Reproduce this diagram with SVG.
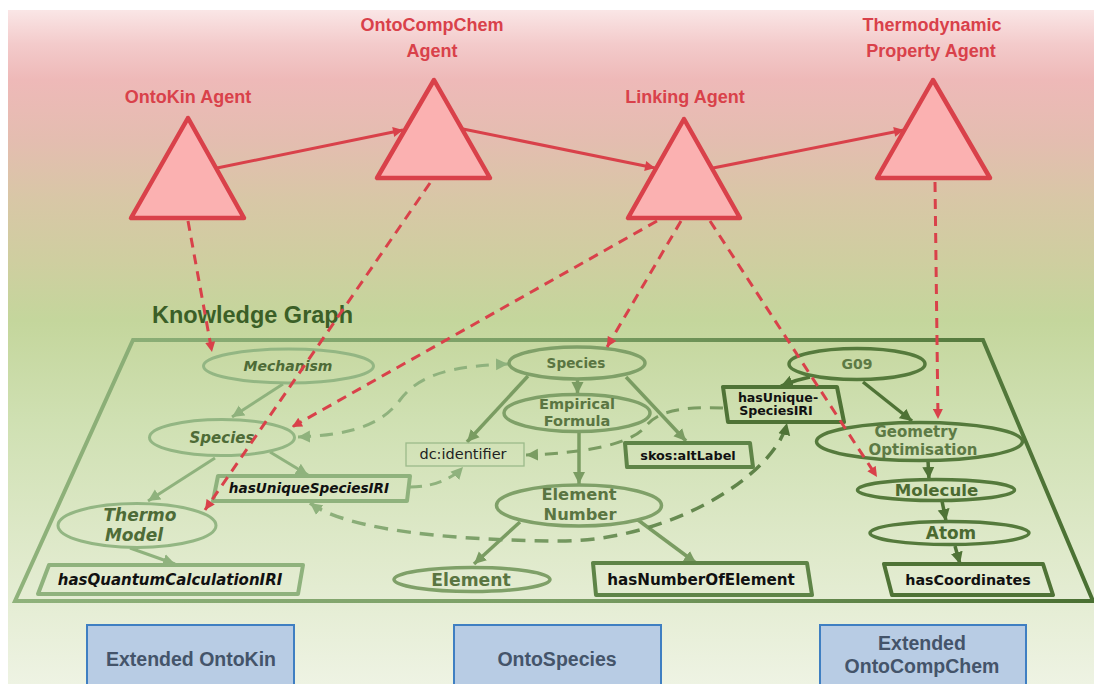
<svg xmlns="http://www.w3.org/2000/svg" width="1094" height="684" viewBox="0 0 1094 684">
  <defs>
    <linearGradient id="bg" gradientUnits="userSpaceOnUse" x1="0" y1="10" x2="0" y2="684">
      <stop offset="0" stop-color="#fae6e6"/>
      <stop offset="0.052" stop-color="#f3caca"/>
      <stop offset="0.104" stop-color="#eeb9b8"/>
      <stop offset="0.193" stop-color="#e4bdb0"/>
      <stop offset="0.282" stop-color="#d8c7a6"/>
      <stop offset="0.371" stop-color="#cfcea0"/>
      <stop offset="0.46" stop-color="#c4d69c"/>
      <stop offset="0.608" stop-color="#cfe0b2"/>
      <stop offset="0.816" stop-color="#e0eacc"/>
      <stop offset="1" stop-color="#eef3e3"/>
    </linearGradient>
    <linearGradient id="kgEdge" gradientUnits="userSpaceOnUse" x1="15" y1="0" x2="1093" y2="0">
      <stop offset="0" stop-color="#8fb27b"/>
      <stop offset="0.5" stop-color="#7a9e64"/>
      <stop offset="1" stop-color="#4a7032"/>
    </linearGradient>
    <linearGradient id="loopEdge" gradientUnits="userSpaceOnUse" x1="310" y1="0" x2="790" y2="0">
      <stop offset="0" stop-color="#8fb27d"/>
      <stop offset="1" stop-color="#5b7f44"/>
    </linearGradient>
    <marker id="redHead" viewBox="0 0 10 10" refX="10" refY="5" markerUnits="userSpaceOnUse" markerWidth="11" markerHeight="10" orient="auto">
      <path d="M0,0 L10,5 L0,10 z" fill="#d9414a"/>
    </marker>
    <marker id="lightHead" viewBox="0 0 10 10" refX="10" refY="5" markerUnits="userSpaceOnUse" markerWidth="12" markerHeight="13" orient="auto-start-reverse">
      <path d="M0,0 L10,5 L0,10 z" fill="#8fb27d"/>
    </marker>
    <marker id="midHead" viewBox="0 0 10 10" refX="10" refY="5" markerUnits="userSpaceOnUse" markerWidth="12" markerHeight="13" orient="auto-start-reverse">
      <path d="M0,0 L10,5 L0,10 z" fill="#7a9c62"/>
    </marker>
    <marker id="darkHead" viewBox="0 0 10 10" refX="10" refY="5" markerUnits="userSpaceOnUse" markerWidth="12" markerHeight="13" orient="auto-start-reverse">
      <path d="M0,0 L10,5 L0,10 z" fill="#4f7336"/>
    </marker>
    <style>
      .agent { fill: #fbb1b1; stroke: #d9414a; stroke-width: 4.5; stroke-linejoin: round; }
      .agentText { font-family: "Liberation Sans", Arial, sans-serif; font-weight: bold; font-size: 18px; fill: #d9414a; text-anchor: middle; }
      .redLine { stroke: #d9414a; stroke-width: 3; fill: none; marker-end: url(#redHead); }
      .redDash { stroke: #d9414a; stroke-width: 3; fill: none; stroke-dasharray: 10 7; marker-end: url(#redHead); }
      .g { font-family: "DejaVu Sans", Verdana, sans-serif; font-weight: bold; text-anchor: middle; }
      .it { font-style: italic; }
      .lightEl { fill: none; stroke: #93b683; stroke-width: 3; }
      .midEl { fill: none; stroke: #7fa068; stroke-width: 3.5; }
      .darkEl { fill: none; stroke: #557a3c; stroke-width: 3.5; }
      .lightTx { fill: #4e6b37; }
      .midTx { fill: #5a7542; }
      .darkTx { fill: #4b6a31; }
      .boxTx { fill: #111; }
      .lightBox { fill: none; stroke: #8fb27d; stroke-width: 4; stroke-linejoin: round; }
      .midBox { fill: none; stroke: #5e8447; stroke-width: 4; stroke-linejoin: round; }
      .darkBox { fill: none; stroke: #4f7336; stroke-width: 4; stroke-linejoin: round; }
      .lightArrow { stroke: #8fb27d; stroke-width: 3; fill: none; marker-end: url(#lightHead); }
      .midArrow { stroke: #7a9c62; stroke-width: 3.5; fill: none; marker-end: url(#midHead); }
      .darkArrow { stroke: #4f7336; stroke-width: 3.5; fill: none; marker-end: url(#darkHead); }
      .onto { fill: #b8cce4; stroke: #3f7fc2; stroke-width: 2; }
      .ontoText { font-family: "Liberation Sans", Arial, sans-serif; font-weight: bold; font-size: 19.5px; fill: #44546a; text-anchor: middle; }
    </style>
  </defs>

  <!-- backdrop -->
  <rect x="0" y="0" width="1094" height="684" fill="#ffffff"/>
  <rect x="8" y="10" width="1086" height="674" fill="url(#bg)"/>

  <!-- knowledge graph frame -->
  <g id="knowledge-graph">
    <polygon points="133,340 983,340 1093,601 15,601" fill="none" stroke="url(#kgEdge)" stroke-width="4" stroke-linejoin="miter"/>
    <text x="152" y="323" font-family="Liberation Sans, Arial, sans-serif" font-weight="bold" font-size="23.5" fill="#3b5f27">Knowledge Graph</text>
  </g>

  <!-- graph edges inside the knowledge graph -->
  <g id="connectors">
    <!-- extended OntoKin -->
    <line class="lightArrow" x1="283" y1="384" x2="232" y2="417"/>
    <line class="lightArrow" x1="270" y1="452" x2="308" y2="475"/>
    <line class="lightArrow" x1="215" y1="458" x2="148" y2="501"/>
    <line class="lightArrow" x1="130" y1="548" x2="175" y2="564"/>
    <!-- OntoSpecies -->
    <line class="midArrow" x1="577.5" y1="380" x2="577.5" y2="394"/>
    <line class="midArrow" x1="528" y1="376" x2="467" y2="442"/>
    <line class="midArrow" x1="626" y1="377" x2="686" y2="441"/>
    <line class="midArrow" x1="579" y1="433" x2="579" y2="484"/>
    <line class="midArrow" x1="520" y1="522" x2="474" y2="564"/>
    <line class="midArrow" x1="638" y1="520" x2="696" y2="563"/>
    <!-- extended OntoCompChem -->
    <path class="darkArrow" d="M810,377 Q795,380 781,386"/>
    <line class="darkArrow" x1="863" y1="382" x2="912" y2="421"/>
    <line class="darkArrow" x1="928" y1="461" x2="929" y2="479"/>
    <line class="darkArrow" x1="942" y1="501" x2="946" y2="521"/>
    <line class="darkArrow" x1="955" y1="546" x2="960" y2="564"/>
    <!-- cross-ontology links (dashed) -->
    <path d="M298,437 C360,435 385,420 400,400 C415,380 440,366 508,364" fill="none" stroke="#8fb27d" stroke-width="3" stroke-dasharray="13 9" marker-start="url(#lightHead)" marker-end="url(#lightHead)"/>
    <path d="M410,487 C430,487 450,481 463,467" fill="none" stroke="#8fb27d" stroke-width="3" stroke-dasharray="12 8" marker-end="url(#lightHead)"/>
    <path d="M723,408 C670,406 655,415 645,427 C632,443 590,453 526,455" fill="none" stroke="#7a9c62" stroke-width="3" stroke-dasharray="13 9" marker-end="url(#midHead)"/>
    <path d="M310,503 C340,525 420,540 560,541 C670,541 775,475 787,423" fill="none" stroke="url(#loopEdge)" stroke-width="3.5" stroke-dasharray="14 9" marker-start="url(#lightHead)" marker-end="url(#darkHead)"/>
  </g>

  <!-- Extended OntoKin nodes -->
  <g id="mechanism">
    <ellipse class="lightEl" cx="288.5" cy="366" rx="85" ry="17"/>
    <text class="g it lightTx" x="288" y="371" font-size="14">Mechanism</text>
  </g>
  <g id="species-kin">
    <ellipse class="lightEl" cx="222" cy="437.5" rx="72.5" ry="18"/>
    <text class="g it lightTx" x="222" y="443" font-size="15">Species</text>
  </g>
  <g id="thermo-model">
    <ellipse class="lightEl" cx="137" cy="525.5" rx="79" ry="22"/>
    <text class="g it lightTx" x="140" y="521" font-size="17">Thermo</text>
    <text class="g it lightTx" x="134" y="541" font-size="17">Model</text>
  </g>
  <g id="has-unique-species-iri-kin">
    <polygon class="lightBox" points="218,476 410,476 407,501 213,501"/>
    <text class="g it boxTx" x="309" y="493" font-size="13.6">hasUniqueSpeciesIRI</text>
  </g>
  <g id="has-quantum-calculation-iri">
    <polygon class="lightBox" points="49,565 303,565 298,594 38,594"/>
    <text class="g it boxTx" x="170" y="584.5" font-size="15">hasQuantumCalculationIRI</text>
  </g>

  <!-- OntoSpecies nodes -->
  <g id="species">
    <ellipse class="midEl" cx="577" cy="363" rx="68" ry="16"/>
    <text class="g midTx" x="576" y="368" font-size="13.6">Species</text>
  </g>
  <g id="empirical-formula">
    <ellipse class="midEl" cx="577" cy="413" rx="73" ry="18.5"/>
    <text class="g midTx" x="577" y="409" font-size="14.5">Empirical</text>
    <text class="g midTx" x="577" y="426" font-size="14.5">Formula</text>
  </g>
  <g id="dc-identifier">
    <rect x="406" y="443" width="118" height="23" fill="none" stroke="#9cba8a" stroke-width="1.3"/>
    <text x="463" y="459" font-family="DejaVu Sans, Verdana, sans-serif" font-size="14.5" fill="#222" text-anchor="middle">dc:identifier</text>
  </g>
  <g id="skos-alt-label">
    <polygon class="midBox" points="625,443 750,443 753,467 627,467"/>
    <text class="g boxTx" x="688" y="459.5" font-size="12.8">skos:altLabel</text>
  </g>
  <g id="element-number">
    <ellipse class="midEl" cx="579" cy="505.5" rx="82.5" ry="20.5"/>
    <text class="g midTx" x="579" y="500" font-size="16.3">Element</text>
    <text class="g midTx" x="580" y="519.5" font-size="16.3">Number</text>
  </g>
  <g id="element">
    <ellipse class="midEl" cx="472" cy="579.5" rx="78" ry="12"/>
    <text class="g midTx" x="471" y="585.5" font-size="17.2">Element</text>
  </g>
  <g id="has-number-of-element">
    <polygon class="midBox" points="593,563 807,563 812,595 596,595"/>
    <text class="g boxTx" x="701" y="584.5" font-size="15.2">hasNumberOfElement</text>
  </g>

  <!-- Extended OntoCompChem nodes -->
  <g id="g09">
    <ellipse class="darkEl" cx="857" cy="364" rx="68" ry="15.5"/>
    <text class="g" x="857" y="369" font-size="14" fill="#5d7a45">G09</text>
  </g>
  <g id="has-unique-species-iri-compchem">
    <polygon class="darkBox" points="723,387 837,387 844,422 728,422"/>
    <text class="g boxTx" x="778" y="401.5" font-size="12.6">hasUnique-</text>
    <text class="g boxTx" x="776" y="415" font-size="12.6">SpeciesIRI</text>
  </g>
  <g id="geometry-optimisation">
    <ellipse class="darkEl" cx="919.5" cy="441.5" rx="103" ry="19"/>
    <text class="g" x="916" y="437" font-size="15" fill="#5d7a45">Geometry</text>
    <text class="g" x="923" y="455" font-size="15" fill="#5d7a45">Optimisation</text>
  </g>
  <g id="molecule">
    <ellipse class="darkEl" cx="936" cy="490" rx="78.5" ry="10.5"/>
    <text class="g darkTx" x="936.5" y="496" font-size="16.6">Molecule</text>
  </g>
  <g id="atom">
    <ellipse class="darkEl" cx="949.5" cy="533" rx="79.5" ry="11.5"/>
    <text class="g darkTx" x="951" y="539" font-size="16.9">Atom</text>
  </g>
  <g id="has-coordinates">
    <polygon class="darkBox" points="884,564 1043,564 1053,595 892,595"/>
    <text class="g boxTx" x="968" y="584.5" font-size="14.3">hasCoordinates</text>
  </g>

  <!-- agents and their links -->
  <g id="agent-connectors">
    <line class="redLine" x1="217" y1="168" x2="403" y2="130"/>
    <line class="redLine" x1="463" y1="129" x2="655" y2="168"/>
    <line class="redLine" x1="713" y1="168" x2="904" y2="130"/>
    <line class="redDash" x1="188" y1="221" x2="212" y2="352"/>
    <line class="redDash" x1="430" y1="183" x2="205" y2="510"/>
    <line class="redDash" x1="657" y1="221" x2="292" y2="427"/>
    <line class="redDash" x1="681" y1="221" x2="607" y2="347"/>
    <line class="redDash" x1="710" y1="221" x2="877" y2="477"/>
    <line class="redDash" x1="935" y1="182" x2="938" y2="419"/>
  </g>

  <g id="ontokin-agent">
    <polygon class="agent" points="188,118 131,218 244,218"/>
    <text class="agentText" x="188" y="103">OntoKin Agent</text>
  </g>
  <g id="ontocompchem-agent">
    <polygon class="agent" points="434,80 377,178 490,178"/>
    <text class="agentText" x="432" y="31">OntoCompChem</text>
    <text class="agentText" x="432" y="57">Agent</text>
  </g>
  <g id="linking-agent">
    <polygon class="agent" points="684,119 628,218 740,218"/>
    <text class="agentText" x="685" y="103">Linking Agent</text>
  </g>
  <g id="thermodynamic-property-agent">
    <polygon class="agent" points="933,80 877,178 990,178"/>
    <text class="agentText" x="932" y="31">Thermodynamic</text>
    <text class="agentText" x="931" y="57">Property Agent</text>
  </g>

  <!-- ontology labels -->
  <g id="extended-ontokin">
    <rect class="onto" x="87" y="625" width="207" height="70"/>
    <text class="ontoText" x="191" y="666">Extended OntoKin</text>
  </g>
  <g id="ontospecies">
    <rect class="onto" x="454" y="625" width="207" height="70"/>
    <text class="ontoText" x="557" y="666">OntoSpecies</text>
  </g>
  <g id="extended-ontocompchem">
    <rect class="onto" x="820" y="625" width="206" height="70"/>
    <text class="ontoText" x="922" y="650">Extended</text>
    <text class="ontoText" x="922" y="673">OntoCompChem</text>
  </g>
</svg>
